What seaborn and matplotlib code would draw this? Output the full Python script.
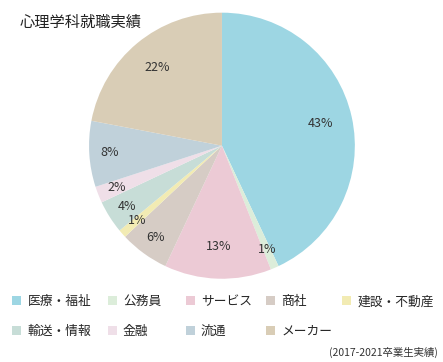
import matplotlib
matplotlib.use("Agg")
import matplotlib.pyplot as plt
import seaborn as sns
import numpy as np

# data
categories = ["医療・福祉", "公務員", "サービス", "商社", "建設・不動産",
              "輸送・情報", "金融", "流通", "メーカー"]
shares = [43, 1, 13, 6, 1, 4, 2, 8, 22]
colors = ["#9dd6e3", "#dcedda", "#eccad5", "#d6ccc5", "#f2ebb3",
          "#c7ddd7", "#efdfe8", "#c0d1da", "#d9cdb6"]

sns.set_theme(style="white")
plt.rcParams['font.family'] = ['Noto Sans CJK JP', 'DejaVu Sans']

fig = plt.figure(figsize=(4.43, 3.62), dpi=100)
ax = fig.add_axes([0.201, 0.230, 0.600, 0.735])

wedges, _ = ax.pie(shares, colors=sns.color_palette(colors), startangle=90,
                   counterclock=False, wedgeprops=dict(linewidth=0))
ax.set_xlim(-1, 1)
ax.set_ylim(-1, 1)
ax.set_aspect("auto")

# percentage labels, pushed out a bit more for the thin slices
for w, v in zip(wedges, shares):
    mid = np.deg2rad((w.theta1 + w.theta2) / 2)
    r = 0.76 if v >= 10 else 0.85
    ax.text(r * np.cos(mid), r * np.sin(mid), f"{v}%", ha="center",
            va="center", fontsize=9, color="#333333")

fig.text(0.045, 0.938, "心理学科就職実績", fontsize=11, color="#222222",
         ha="left", va="center")

# legend: 5 fixed-width columns, filled row by row
col_x = [0.028, 0.243, 0.419, 0.600, 0.772]
for c, x in enumerate(col_x):
    idx = [i for i in (c, c + 5) if i < len(categories)]
    fig.legend([wedges[i] for i in idx], [categories[i] for i in idx],
               loc="upper left", bbox_to_anchor=(x, 0.184),
               frameon=False, fontsize=9.2, handlelength=0.7,
               handleheight=0.7, handletextpad=0.5,
               labelspacing=1.3, borderaxespad=0, borderpad=0)

fig.text(0.988, 0.027, "(2017-2021卒業生実績)", fontsize=7.5, color="#333333",
         ha="right", va="center")

plt.savefig("out.png", dpi=100)
plt.close()
